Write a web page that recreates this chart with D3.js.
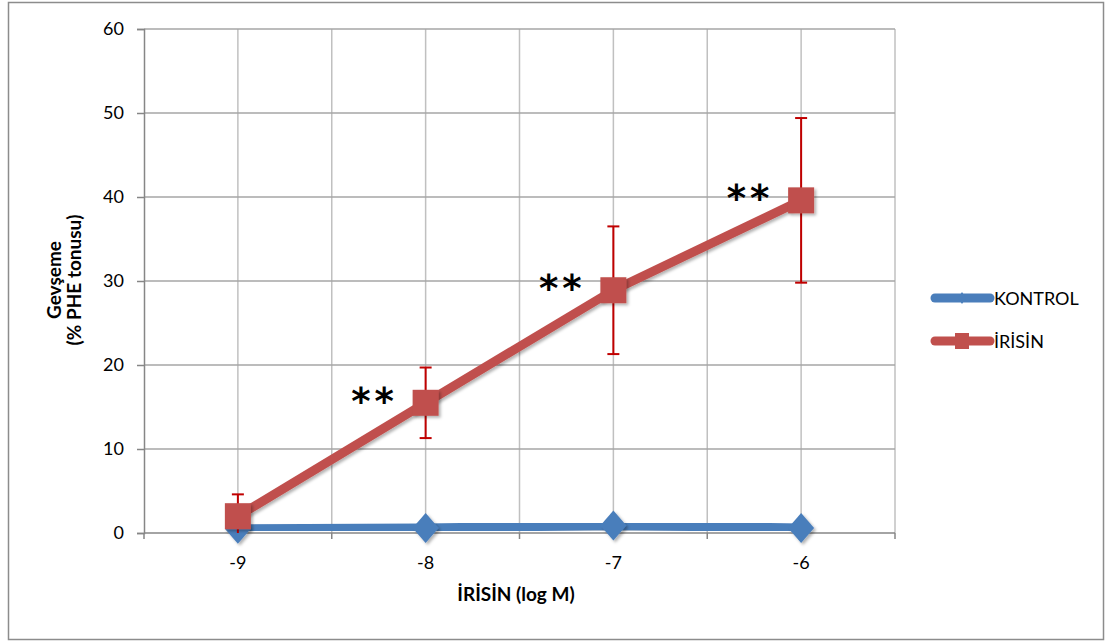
<!DOCTYPE html>
<html><head><meta charset="utf-8">
<script src="https://cdn.jsdelivr.net/npm/d3@7"></script>
<style>
html,body{margin:0;padding:0;background:#fff;}
svg{display:block;font-family:Lato,"Open Sans",sans-serif;}
</style></head>
<body>
<svg id="chart" width="1105" height="643"></svg>
<script>
const categories = ["-9", "-8", "-7", "-6"];
const kontrol = [0.5, 0.6, 0.9, 0.6];
const irisin = [2.0, 15.5, 28.9, 39.6];
const irisinErr = [2.6, 4.2, 7.6, 9.8];
const significance = ["", "**", "**", "**"];
const yTicks = [0, 10, 20, 30, 40, 50, 60];
const seriesNames = ["KONTROL", "İRİSİN"];

const svg = d3.select("#chart");
const L = 144, R = 895, T = 29, B = 533;
const blue = "#4A7EBB", red = "#C0504D", errRed = "#C00000";

const defs = svg.append("defs");
const f = defs.append("filter").attr("id","sh").attr("x","-50%").attr("y","-50%").attr("width","200%").attr("height","200%");
f.append("feDropShadow").attr("dx",2).attr("dy",2).attr("stdDeviation",1.5).attr("flood-color","#000").attr("flood-opacity",0.3);
defs.append("clipPath").attr("id","clip").append("rect").attr("x",L).attr("y",T-2).attr("width",R-L).attr("height",B-T+2);

// outer border
svg.append("rect").attr("x",8.5).attr("y",2.5).attr("width",1095).attr("height",637)
  .attr("fill","#fff").attr("stroke","#8c8c8c").attr("stroke-width",1.5);

const x = d3.scalePoint().domain(categories).range([L, R]).padding(0.5);
const step = x.step();
const y = d3.scaleLinear().domain([0, 60]).range([B, T]);

// gridlines
const gx = [];
categories.forEach((c,i)=>{ if(i===0) gx.push(x(c)-step/2); gx.push(x(c)); gx.push(x(c)+step/2); });
svg.append("g").selectAll("line.v").data(gx.filter(v=>v>L+1)).join("line")
  .attr("x1",d=>d).attr("x2",d=>d).attr("y1",T).attr("y2",B)
  .attr("stroke","#c0c0c0").attr("stroke-width",1.5);
svg.append("g").selectAll("line.h").data(yTicks.filter(v=>v>0)).join("line")
  .attr("x1",L).attr("x2",R).attr("y1",d=>y(d)).attr("y2",d=>y(d))
  .attr("stroke","#a6a6a6").attr("stroke-width",1.5);

// y axis
const yAxis = svg.append("g").attr("transform",`translate(${L},0)`)
  .call(d3.axisLeft(y).tickValues(yTicks).tickSize(7).tickPadding(13));
yAxis.select(".domain").attr("stroke","#868686").attr("stroke-width",1.5);
yAxis.selectAll(".tick line").attr("stroke","#868686").attr("stroke-width",1.5);
yAxis.selectAll("text").attr("font-size",18).attr("fill","#000").attr("font-family","Lato,sans-serif");

// x axis
const bx = [L];
categories.forEach(c=>bx.push(x(c)+step/2));
const xg = svg.append("g");
xg.append("line").attr("x1",L).attr("x2",R).attr("y1",B).attr("y2",B).attr("stroke","#868686").attr("stroke-width",1.5);
xg.selectAll("line.t").data(bx).join("line").attr("x1",d=>d).attr("x2",d=>d).attr("y1",B).attr("y2",B+6)
  .attr("stroke","#868686").attr("stroke-width",1.5);
xg.selectAll("text").data(categories).join("text").attr("x",d=>x(d)).attr("y",B+36)
  .attr("text-anchor","middle").attr("font-size",18).text(d=>d);

// axis titles
svg.append("text").attr("x",516).attr("y",601).attr("text-anchor","middle")
  .attr("font-size",19).attr("font-weight","bold").text("İRİSİN (log M)");
const yt = svg.append("text").attr("transform","translate(0,280) rotate(-90)")
  .attr("text-anchor","middle").attr("font-size",19).attr("font-weight","bold");
yt.append("tspan").attr("x",0).attr("y",61).text("Gevşeme");
yt.append("tspan").attr("x",0).attr("y",81).text("(% PHE tonusu)");

const line = d3.line().x((d,i)=>x(categories[i])).y(d=>y(d));
const plot = svg.append("g");

// KONTROL series
plot.append("path").datum(kontrol).attr("d",line).attr("fill","none")
  .attr("stroke",blue).attr("stroke-width",9).attr("stroke-linejoin","round").attr("filter","url(#sh)");
const diamond = "M0,-15L13,0L0,15L-13,0Z";
plot.selectAll("path.dk").data(kontrol).join("path").attr("class","dk")
  .attr("transform",(d,i)=>`translate(${x(categories[i])},${y(d)})`)
  .attr("d",diamond).attr("fill",blue).attr("filter","url(#sh)");

// İRİSİN error bars
const eb = plot.append("g").attr("clip-path","url(#clip)");
irisin.forEach((v,i)=>{
  const cx = x(categories[i]);
  const y1 = y(v+irisinErr[i]), y0 = y(v-irisinErr[i]);
  eb.append("line").attr("x1",cx).attr("x2",cx).attr("y1",y1).attr("y2",y0).attr("stroke",errRed).attr("stroke-width",2);
  [y1,y0].forEach(yy=>eb.append("line").attr("x1",cx-6).attr("x2",cx+6).attr("y1",yy).attr("y2",yy).attr("stroke",errRed).attr("stroke-width",2));
});

// İRİSİN series
plot.append("path").datum(irisin).attr("d",line).attr("fill","none")
  .attr("stroke",red).attr("stroke-width",9).attr("stroke-linejoin","round").attr("filter","url(#sh)");
plot.selectAll("rect.sq").data(irisin).join("rect").attr("class","sq")
  .attr("x",(d,i)=>x(categories[i])-13).attr("y",d=>y(d)-13).attr("width",26).attr("height",26)
  .attr("fill",red).attr("filter","url(#sh)");

// significance marks
svg.selectAll("text.sig").data(irisin).join("text").attr("class","sig")
  .attr("x",(d,i)=>x(categories[i])-51).attr("y",d=>y(d)+11)
  .attr("text-anchor","middle").attr("font-size",37).attr("font-weight","bold")
  .attr("font-family","DejaVu Sans,sans-serif")
  .attr("letter-spacing",4)
  .text((d,i)=>significance[i]);

// legend
const lg = svg.append("g");
[blue, red].forEach((c,i)=>{
  const ly = 298 + i*43;
  lg.append("line").attr("x1",935).attr("x2",990).attr("y1",ly).attr("y2",ly).attr("stroke",c).attr("stroke-width",9).attr("stroke-linecap","round");
  if(i===0) lg.append("path").attr("transform",`translate(962,${ly})`).attr("d","M0,-6L4,0L0,6L-4,0Z").attr("fill",c);
  else lg.append("rect").attr("x",955).attr("y",ly-8).attr("width",14).attr("height",16).attr("fill",c);
  lg.append("text").attr("x",994).attr("y",ly+7).attr("font-size",18).text(seriesNames[i]);
});
</script>
</body></html>
